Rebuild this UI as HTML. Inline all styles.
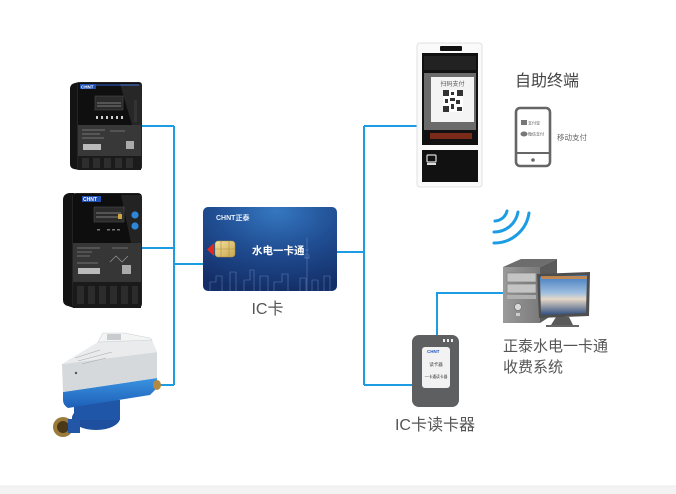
<!DOCTYPE html>
<html><head><meta charset="utf-8"><style>
html,body{margin:0;padding:0;background:#fff;}
body{width:676px;height:494px;overflow:hidden;position:relative;font-family:"Liberation Sans","Noto Sans CJK SC",sans-serif;}
svg{position:absolute;left:0;top:0;}
</style></head><body>
<svg width="676" height="494" viewBox="0 0 676 494" xmlns="http://www.w3.org/2000/svg" font-family="Liberation Sans, Noto Sans CJK SC, sans-serif">
<defs>
<radialGradient id="cardg" cx="0.55" cy="0.05" r="0.95">
<stop offset="0" stop-color="#3577c0"/><stop offset="0.5" stop-color="#204d92"/><stop offset="1" stop-color="#142f68"/>
</radialGradient>
<linearGradient id="chip" x1="0" y1="0" x2="1" y2="1"><stop offset="0" stop-color="#f3e2a0"/><stop offset="1" stop-color="#c9a650"/></linearGradient>
<linearGradient id="scr" x1="0" y1="0" x2="0" y2="1"><stop offset="0" stop-color="#3f78bd"/><stop offset="0.45" stop-color="#9fbfe0"/><stop offset="0.6" stop-color="#e6d8c8"/><stop offset="1" stop-color="#2e4f80"/></linearGradient>
<linearGradient id="tower" x1="0" y1="0" x2="1" y2="0"><stop offset="0" stop-color="#9a9a9a"/><stop offset="1" stop-color="#7a7a7a"/></linearGradient>
<linearGradient id="wband" x1="0" y1="0" x2="0" y2="1"><stop offset="0" stop-color="#3a93e0"/><stop offset="1" stop-color="#1d5fb8"/></linearGradient>
</defs>

<!-- bottom strip -->
<rect x="0" y="486" width="676" height="8" fill="#f3f3f3"/>
<line x1="0" y1="486" x2="676" y2="486" stroke="#ebebeb" stroke-width="1"/>

<!-- connectors -->
<g stroke="#1b9ce3" stroke-width="2" fill="none">
<path d="M174 126 V385"/>
<path d="M139 126 H174"/>
<path d="M142 248 H174"/>
<path d="M158 385 H174"/>
<path d="M174 264 H204"/>
<path d="M337 252 H364"/>
<path d="M364 126 V385"/>
<path d="M364 126 H417"/>
<path d="M364 385 H413"/>
<path d="M437 336 V293 H507"/>
</g>

<!-- top meter -->
<g>
<path d="M70 89 Q70 84 75 83 L79 82 L79 170 L74 169 Q70 168 70 164 Z" fill="#141414"/>
<rect x="77" y="82" width="65" height="88" rx="3" fill="#242424"/>
<rect x="78" y="83" width="63" height="42" fill="#0f0f0f"/>
<rect x="80" y="84" width="16" height="5" fill="#1f4fb5"/>
<text x="81" y="88.4" font-size="4.5" fill="#fff" font-weight="bold">CHNT</text>
<line x1="96" y1="85" x2="139" y2="85" stroke="#2a5fd0" stroke-width="1"/>
<rect x="95" y="96" width="28" height="14" fill="#2b2b2b" stroke="#4a4a4a" stroke-width="0.6"/>
<g stroke="#9a9a9a" stroke-width="0.8"><line x1="97" y1="103" x2="121" y2="103"/><line x1="97" y1="106" x2="121" y2="106"/></g>
<g fill="#cfcfcf"><rect x="96" y="116" width="2" height="3"/><rect x="101" y="116" width="2" height="3"/><rect x="106" y="116" width="2" height="3"/><rect x="111" y="116" width="2" height="3"/><rect x="116" y="116" width="2" height="3"/><rect x="121" y="116" width="2" height="3"/></g>
<polygon points="120,84 141,84 141,125 132,125" fill="#fff" opacity="0.1"/>
<rect x="134" y="100" width="3" height="22" fill="#333"/>
<rect x="78" y="125" width="63" height="31" fill="#383838"/>
<g stroke="#8a8a8a" stroke-width="0.7"><line x1="82" y1="130" x2="105" y2="130"/><line x1="82" y1="134" x2="100" y2="134"/><line x1="82" y1="138" x2="104" y2="138"/><line x1="110" y1="131" x2="125" y2="131"/></g>
<rect x="83" y="144" width="18" height="6" fill="#bbb"/>
<rect x="126" y="141" width="8" height="8" fill="#aaa"/>
<rect x="78" y="156" width="63" height="14" fill="#1b1b1b"/>
<g fill="#2e2e2e"><rect x="82" y="158" width="7" height="10"/><rect x="93" y="158" width="7" height="10"/><rect x="104" y="158" width="7" height="10"/><rect x="115" y="158" width="7" height="10"/><rect x="126" y="158" width="7" height="10"/></g>
</g>

<!-- middle meter -->
<g>
<path d="M63 200 Q63 194 69 193 L74 193 L74 308 L68 306 Q63 305 63 300 Z" fill="#131313"/>
<rect x="72" y="193" width="70" height="115" rx="4" fill="#232323"/>
<rect x="73" y="194" width="68" height="49" fill="#0e0e0e"/>
<rect x="82" y="196" width="19" height="6" fill="#1f4fb5"/>
<text x="83" y="201" font-size="5" fill="#fff" font-weight="bold">CHNT</text>
<rect x="94" y="207" width="30" height="15" fill="#2b2b2b" stroke="#4a4a4a" stroke-width="0.6"/>
<g stroke="#9a9a9a" stroke-width="0.8"><line x1="96" y1="213" x2="121" y2="213"/><line x1="96" y1="217" x2="121" y2="217"/></g>
<rect x="118" y="214" width="4" height="5" fill="#c9a640"/>
<g fill="#777"><rect x="97" y="229" width="3" height="1.5"/><rect x="107" y="229" width="3" height="1.5"/><rect x="112" y="229" width="3" height="1.5"/><rect x="117" y="229" width="3" height="1.5"/></g>
<polygon points="121,195 141,195 141,243 131,243" fill="#fff" opacity="0.09"/>
<circle cx="135" cy="215" r="3.6" fill="#2e86d8"/>
<circle cx="135" cy="226" r="3.6" fill="#2e86d8"/>
<rect x="73" y="243" width="68" height="39" fill="#363636"/>
<g stroke="#888" stroke-width="0.7"><line x1="77" y1="248" x2="100" y2="248"/><line x1="77" y1="252" x2="92" y2="252"/><line x1="77" y1="256" x2="90" y2="256"/><line x1="77" y1="263" x2="98" y2="263"/><line x1="112" y1="248" x2="128" y2="248"/></g>
<path d="M110 262 L116 256 L122 262 L128 256" stroke="#999" stroke-width="0.7" fill="none"/>
<rect x="78" y="268" width="22" height="6" fill="#bbb"/>
<rect x="122" y="265" width="9" height="9" fill="#aaa"/>
<rect x="73" y="282" width="68" height="26" fill="#1a1a1a"/>
<g fill="#2c2c2c"><rect x="77" y="286" width="7" height="18"/><rect x="88" y="286" width="7" height="18"/><rect x="99" y="286" width="7" height="18"/><rect x="110" y="286" width="7" height="18"/><rect x="121" y="286" width="7" height="18"/><rect x="132" y="286" width="6" height="18"/></g>
</g>

<!-- water meter -->
<g>
<ellipse cx="96" cy="418" rx="24" ry="12" fill="#1d4f9e"/>
<rect x="74" y="400" width="46" height="20" fill="#1f56a8"/>
<circle cx="63" cy="427" r="10" fill="#9b7b3b"/>
<circle cx="63" cy="427" r="6" fill="#4a3818"/>
<rect x="68" y="419" width="12" height="14" fill="#2356a6"/>
<path d="M63 392 L157 378 L157 388 L150 395 L68 408 Q63 405 63 400 Z" fill="url(#wband)"/>
<ellipse cx="157" cy="385" rx="4" ry="5" fill="#b08a40"/>
<path d="M62 364 L157 352 L157 378 L63 392 Z" fill="#d6d9db"/>
<path d="M62 364 L98 342 L152 340 L157 352 Z" fill="#e9ebec"/>
<path d="M98 342 L103 333 L124 333 L150 338 L152 340 Z" fill="#f3f4f4" stroke="#cfd2d4" stroke-width="0.6"/>
<rect x="107" y="334" width="14" height="6" fill="#c8ccce"/>
<g stroke="#a8acb0" stroke-width="0.6"><line x1="75" y1="358" x2="100" y2="350"/><line x1="78" y1="361" x2="112" y2="352"/><line x1="82" y1="364" x2="106" y2="358"/></g>
<circle cx="76" cy="373" r="1.2" fill="#555"/>
</g>

<!-- IC card -->
<g>
<rect x="203" y="207" width="134" height="84" rx="5" fill="url(#cardg)"/>
<g stroke="#8fb2df" stroke-width="0.6" fill="none" opacity="0.55">
<path d="M210 291 V282 H216 V276 H222 V291 M230 291 V272 H236 V291 M244 291 V280 H250 V270 H254 V291 M260 291 V276 H268 V291 M274 291 V282 H282 V274 H288 V291 M300 291 V278 H306 V291 M312 291 V280 H318 V291 M324 291 V276 H330 V291"/>
<path d="M307 291 V238 M305 250 H309 M304 258 H310"/>
<circle cx="307" cy="256" r="2"/>
</g>
<text x="216" y="220" font-size="7" font-weight="bold" fill="#e8eef8">CHNT正泰</text>
<polygon points="214,243 214,256 207,249.5" fill="#e02a20"/>
<rect x="215" y="241" width="20" height="16" rx="3" fill="url(#chip)" stroke="#b0913e" stroke-width="0.5"/>
<g stroke="#b0913e" stroke-width="0.6"><line x1="221" y1="241" x2="221" y2="257"/><line x1="229" y1="241" x2="229" y2="257"/><line x1="215" y1="249" x2="235" y2="249"/></g>
<text x="252" y="254" font-size="10.5" font-weight="bold" fill="#fff">水电一卡通</text>
</g>
<text x="267.5" y="314" font-size="16" fill="#555" text-anchor="middle">IC卡</text>

<!-- kiosk -->
<g>
<rect x="417" y="43" width="65" height="144" rx="3" fill="#fafafa" stroke="#e0e0e0" stroke-width="1"/>
<rect x="440" y="46" width="22" height="5" rx="1" fill="#111"/>
<rect x="422" y="53" width="56" height="92" fill="#111"/>
<rect x="424" y="56" width="52" height="14" fill="#222"/>
<rect x="424" y="73" width="52" height="57" fill="#6b6b6b"/>
<rect x="431" y="77" width="43" height="45" fill="#f4f4f4"/>
<text x="452.5" y="86" font-size="6" fill="#555" text-anchor="middle">扫码支付</text>
<rect x="443" y="90" width="20" height="22" fill="#fff"/>
<g fill="#333">
<rect x="443" y="90" width="6" height="6"/><rect x="457" y="90" width="6" height="6"/><rect x="443" y="106" width="6" height="6"/>
<rect x="451" y="92" width="3" height="3"/><rect x="450" y="98" width="5" height="3"/><rect x="456" y="100" width="4" height="4"/><rect x="451" y="104" width="3" height="5"/><rect x="457" y="107" width="5" height="4"/><rect x="445" y="99" width="3" height="4"/>
</g>
<rect x="430" y="133" width="42" height="6" fill="#7a2a18"/>
<rect x="422" y="150" width="56" height="32" fill="#111"/>
<rect x="427" y="155" width="9" height="7" rx="1" fill="none" stroke="#ddd" stroke-width="1.2"/>
<rect x="427" y="163" width="9" height="2" fill="#ddd"/>
</g>

<!-- self terminal label & phone -->
<text x="515" y="86" font-size="16" fill="#444">自助终端</text>
<g>
<rect x="516" y="108" width="34" height="58" rx="4" fill="#fff" stroke="#666" stroke-width="2.6"/>
<line x1="516" y1="153" x2="550" y2="153" stroke="#666" stroke-width="2"/>
<circle cx="533" cy="160" r="1.8" fill="#666"/>
<rect x="521" y="120" width="6" height="5" fill="#777"/>
<text x="528" y="124.5" font-size="4" fill="#555">支付宝</text>
<ellipse cx="524" cy="134" rx="3.5" ry="2.5" fill="#777"/>
<text x="528" y="135.5" font-size="4" fill="#555">微信支付</text>
</g>
<text x="557" y="140" font-size="7.5" fill="#666">移动支付</text>

<!-- wifi -->
<g stroke="#1b9ce3" stroke-width="3" fill="none" stroke-linecap="round">
<path d="M495 221 A13 13 0 0 0 507 211"/>
<path d="M494 232 A24 24 0 0 0 518 212"/>
<path d="M494 243 A35 35 0 0 0 529 213"/>
</g>

<!-- computer -->
<g>
<polygon points="503,267 521,259 557,259 540,267" fill="#6d6d6d"/>
<polygon points="540,267 557,259 557,312 540,323" fill="#5a5a5a"/>
<rect x="503" y="267" width="37" height="56" fill="url(#tower)"/>
<rect x="507" y="273" width="29" height="9" fill="#c4c4c4" stroke="#777" stroke-width="0.6"/>
<rect x="507" y="284" width="29" height="9" fill="#c4c4c4" stroke="#777" stroke-width="0.6"/>
<rect x="507" y="295" width="29" height="4" fill="#b0b0b0"/>
<circle cx="518" cy="307" r="3.5" fill="#d8d8d8" stroke="#666" stroke-width="0.6"/>
<rect x="516" y="313" width="4" height="3" fill="#ccc"/>
<polygon points="537,274 590,272 589,316 539,318" fill="#4e4e4e"/>
<polygon points="540,277 587,275 586,313 541,315" fill="url(#scr)"/>
<rect x="541" y="276" width="46" height="3" fill="#d98a3a" opacity="0.8"/>
<polygon points="556,317 569,317 573,325 551,325" fill="#5a5a5a"/>
<rect x="546" y="325" width="33" height="2" fill="#666"/>
</g>
<text x="503" y="351" font-size="15" fill="#555">正泰水电一卡通</text>
<text x="503" y="372" font-size="15" fill="#555">收费系统</text>

<!-- card reader -->
<g>
<rect x="412" y="335" width="47" height="72" rx="7" fill="#5e5f60"/>
<g fill="#eee"><rect x="443" y="339" width="2" height="3"/><rect x="447" y="339" width="2" height="3"/><rect x="451" y="339" width="2" height="3"/></g>
<rect x="422" y="347" width="28" height="41" rx="3" fill="#f2f2f2"/>
<text x="427" y="353" font-size="4.5" font-weight="bold" fill="#2356c0">CHNT</text>
<text x="436" y="366" font-size="4.5" fill="#333" text-anchor="middle">读卡器</text>
<text x="436" y="378" font-size="3.8" fill="#333" text-anchor="middle">一卡通读卡器</text>
</g>
<text x="435" y="430" font-size="16" fill="#555" text-anchor="middle">IC卡读卡器</text>
</svg>
</body></html>
